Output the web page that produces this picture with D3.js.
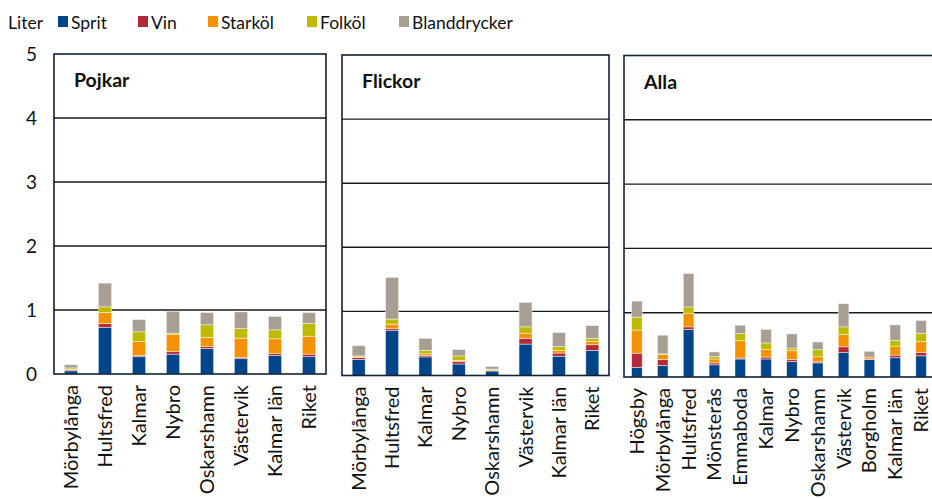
<!DOCTYPE html>
<html>
<head>
<meta charset="utf-8">
<script src="https://cdn.jsdelivr.net/npm/d3@7"></script>
<style>
  body { margin: 0; background: #fff; }
  svg text { font-family: Lato, "Open Sans", sans-serif; fill: #111; }
  .frame { fill: none; stroke: #0f2236; stroke-width: 1.6; }
  .grid line { stroke: #1a1a1a; stroke-width: 1.4; }
  .seg { stroke: rgba(255,255,255,0.55); stroke-width: 0.8; }
</style>
</head>
<body>
<svg id="chart" width="932" height="499"></svg>
<script>

let series = ["Sprit", "Vin", "Starköl", "Folköl", "Blanddrycker"]
let series_col = ["#00458a", "#b5283a", "#f39200", "#bdbb00", "#a79e94"]
let y_ticks = [0, 1, 2, 3, 4, 5]

// Pojkar
let pojkar_orter   = ["Mörbylånga", "Hultsfred", "Kalmar", "Nybro", "Oskarshamn", "Västervik", "Kalmar län", "Riket"]
let pojkar_sprit   = [0.05, 0.73, 0.27, 0.31, 0.40, 0.24, 0.29, 0.27]
let pojkar_vin     = [0.015, 0.06, 0.02, 0.04, 0.03, 0.02, 0.03, 0.04]
let pojkar_stark   = [0.01, 0.17, 0.22, 0.27, 0.14, 0.30, 0.23, 0.28]
let pojkar_folk    = [0.02, 0.09, 0.15, 0.02, 0.20, 0.15, 0.14, 0.20]
let pojkar_bland   = [0.05, 0.37, 0.19, 0.34, 0.19, 0.26, 0.21, 0.17]

// Flickor
let flickor_orter  = ["Mörbylånga", "Hultsfred", "Kalmar", "Nybro", "Oskarshamn", "Västervik", "Kalmar län", "Riket"]
let flickor_sprit  = [0.25, 0.70, 0.29, 0.18, 0.07, 0.49, 0.30, 0.39]
let flickor_vin    = [0.03, 0.03, 0.02, 0.04, 0.005, 0.09, 0.05, 0.09]
let flickor_stark  = [0.01, 0.07, 0.03, 0.015, 0.015, 0.08, 0.04, 0.05]
let flickor_folk   = [0.015, 0.08, 0.05, 0.07, 0.01, 0.10, 0.06, 0.05]
let flickor_bland  = [0.16, 0.65, 0.19, 0.10, 0.04, 0.38, 0.22, 0.20]

// Alla
let alla_orter     = ["Högsby", "Mörbylånga", "Hultsfred", "Mönsterås", "Emmaboda", "Kalmar", "Nybro", "Oskarshamn", "Västervik", "Borgholm", "Kalmar län", "Riket"]
let alla_sprit     = [0.15, 0.18, 0.74, 0.19, 0.28, 0.28, 0.24, 0.22, 0.38, 0.27, 0.30, 0.33]
let alla_vin       = [0.22, 0.09, 0.04, 0.03, 0.015, 0.03, 0.03, 0.015, 0.09, 0.01, 0.04, 0.05]
let alla_stark     = [0.36, 0.08, 0.21, 0.06, 0.27, 0.12, 0.14, 0.08, 0.19, 0.03, 0.14, 0.17]
let alla_folk      = [0.20, 0.01, 0.10, 0.04, 0.11, 0.10, 0.04, 0.11, 0.12, 0.0, 0.09, 0.13]
let alla_bland     = [0.25, 0.29, 0.52, 0.07, 0.13, 0.21, 0.22, 0.12, 0.36, 0.09, 0.24, 0.20]


function to_rows(orter, cols) {
    return orter.map((o, i) => {
        let r = { ort: o }
        series.forEach((s, k) => r[s] = cols[k][i])
        return r
    })
}

let panels = [
    { title: "Pojkar",  x0: 54,  x1: 326, y0: 54,   y1: 374,
      rows: to_rows(pojkar_orter,  [pojkar_sprit,  pojkar_vin,  pojkar_stark,  pojkar_folk,  pojkar_bland]),  pad: 0.61 },
    { title: "Flickor", x0: 342, x1: 609, y0: 55,   y1: 375.5,
      rows: to_rows(flickor_orter, [flickor_sprit, flickor_vin, flickor_stark, flickor_folk, flickor_bland]), pad: 0.61 },
    { title: "Alla",    x0: 624, x1: 934, y0: 55.5, y1: 377,
      rows: to_rows(alla_orter,    [alla_sprit,    alla_vin,    alla_stark,    alla_folk,    alla_bland]),    pad: 0.59 }
]

let svg = d3.select("#chart")
let stack = d3.stack().keys(series)
let color = d3.scaleOrdinal().domain(series).range(series_col)

panels.forEach((p, pi) => {
    let x = d3.scaleBand()
        .domain(p.rows.map(d => d.ort))
        .range([p.x0, p.x1])
        .paddingInner(p.pad)
        .paddingOuter(p.pad / 2)

    let y = d3.scaleLinear()
        .domain([0, 5])
        .range([p.y1, p.y0])

    let g = svg.append("g")

    // grid lines
    g.append("g")
        .attr("class", "grid")
        .selectAll("line")
        .data(y_ticks.filter(t => t > 0 && t < 5))
        .join("line")
            .attr("x1", p.x0).attr("x2", p.x1)
            .attr("y1", d => y(d)).attr("y2", d => y(d))

    // bars
    g.append("g")
        .selectAll("g")
        .data(stack(p.rows))
        .join("g")
            .attr("fill", d => color(d.key))
        .selectAll("rect")
        .data(d => d)
        .join("rect")
            .attr("class", "seg")
            .attr("x", d => x(d.data.ort))
            .attr("width", x.bandwidth())
            .attr("y", d => y(d[1]))
            .attr("height", d => Math.max(0, y(d[0]) - y(d[1])))

    g.append("rect")
        .attr("class", "frame")
        .attr("x", p.x0).attr("y", p.y0)
        .attr("width", p.x1 - p.x0).attr("height", p.y1 - p.y0)

    g.append("text")
        .attr("x", p.x0 + 20)
        .attr("y", p.y0 + 33)
        .attr("font-size", 19.5)
        .attr("font-weight", "bold")
        .text(p.title)

    // category labels, rotated
    g.append("g")
        .selectAll("text")
        .data(p.rows)
        .join("text")
            .attr("transform", d => "translate(" + (x(d.ort) + x.bandwidth() / 2 + 7) + "," + (p.y1 + 11) + ") rotate(-90)")
            .attr("text-anchor", "end")
            .attr("font-size", 20)
            .text(d => d.ort)

    if (pi == 0) {
        g.append("g")
            .selectAll("text")
            .data(y_ticks)
            .join("text")
                .attr("x", 37)
                .attr("y", d => y(d) + 7)
                .attr("text-anchor", "end")
                .attr("font-size", 19)
                .text(d => d)
    }
})

// legend
let legend = svg.append("g")
legend.append("text").attr("x", 8).attr("y", 29).attr("font-size", 17.5).text("Liter")

let leg_x = [58, 138, 208, 307, 399]
let li = legend.selectAll("g.item")
    .data(series)
    .join("g")
        .attr("class", "item")
        .attr("transform", (d, i) => "translate(" + leg_x[i] + ",0)")
li.append("rect")
    .attr("x", 0).attr("y", 16)
    .attr("width", 10).attr("height", 11)
    .attr("fill", d => color(d))
li.append("text")
    .attr("x", 13).attr("y", 29)
    .attr("font-size", 17.5)
    .text(d => d)

</script>
</body>
</html>
